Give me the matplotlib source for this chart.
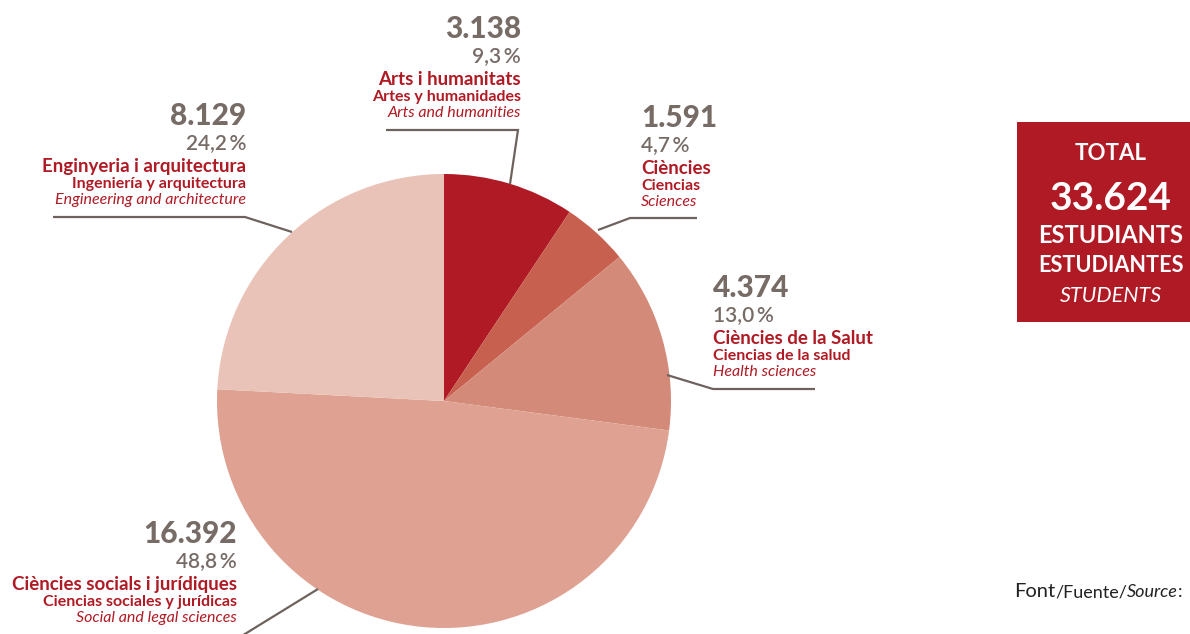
import matplotlib
matplotlib.use("Agg")
import matplotlib.pyplot as plt
from matplotlib.patches import Rectangle

plt.rcParams['font.family'] = ['Lato', 'DejaVu Sans']

# ---- data ----
categories_ca = ["Arts i humanitats", "Ciències", "Ciències de la Salut",
                 "Ciències socials i jurídiques", "Enginyeria i arquitectura"]
categories_es = ["Artes y humanidades", "Ciencias", "Ciencias de la salud",
                 "Ciencias sociales y jurídicas", "Ingeniería y arquitectura"]
categories_en = ["Arts and humanities", "Sciences", "Health sciences",
                 "Social and legal sciences", "Engineering and architecture"]
students = [3138, 1591, 4374, 16392, 8129]
count_labels = ["3.138", "1.591", "4.374", "16.392", "8.129"]
pct_labels = ["9,3\u2009%", "4,7\u2009%", "13,0\u2009%", "48,8\u2009%", "24,2\u2009%"]
total_label = "33.624"

colors = ["#B01A24", "#C86050", "#D48A78", "#DFA191", "#E9C3B7"]
GRAY = "#776B66"
RED = "#B01A24"
LINE = "#6E625D"

W, H = 1190, 634
fig = plt.figure(figsize=(W / 100, H / 100), dpi=100)
ax = fig.add_axes([0, 0, 1, 1])

def Y(y):
    return H - y

cx, cy, R = 444, 401, 227
ax.pie(students, colors=colors, startangle=90, counterclock=False,
       center=(cx, Y(cy)), radius=R, wedgeprops=dict(linewidth=0),
       frame=True)
ax.set_xlim(0, W)
ax.set_ylim(0, H)
ax.set_aspect('equal')
ax.axis('off')

# label anchors: (x, number baseline y, ha)
anchors = [(521, 38, 'right'), (641, 127, 'left'), (713, 297, 'left'),
           (237, 543, 'right'), (246, 125, 'right')]

for i, (x, yb, ha) in enumerate(anchors):
    ax.text(x, Y(yb), count_labels[i], ha=ha, va='baseline', fontsize=21.5,
            fontweight='black', color=GRAY)
    ax.text(x, Y(yb + 24), pct_labels[i], ha=ha, va='baseline', fontsize=15,
            fontweight='semibold', color=GRAY)
    ax.text(x, Y(yb + 47), categories_ca[i], ha=ha, va='baseline', fontsize=13.5,
            fontweight='bold', color=RED)
    ax.text(x, Y(yb + 63), categories_es[i], ha=ha, va='baseline', fontsize=11.5,
            fontweight='bold', color=RED)
    ax.text(x, Y(yb + 79), categories_en[i], ha=ha, va='baseline', fontsize=11.5,
            style='italic', color=RED)

# leader lines
leaders = [
    [(386, 130), (518, 130), (510, 184)],
    [(598, 230), (630, 218), (697, 218)],
    [(667, 375), (713, 389), (815, 389)],
    [(318, 589), (240, 637)],
    [(53, 217), (245, 217), (292, 232)],
]
for pts in leaders:
    xs = [p[0] for p in pts]
    ys = [Y(p[1]) for p in pts]
    ax.plot(xs, ys, color=LINE, lw=1.6, solid_capstyle='butt',
            solid_joinstyle='miter')

# total box
ax.add_patch(Rectangle((1017, Y(322)), 200, 200, color=RED, lw=0))
tx = 1111
ax.text(tx, Y(160), "TOTAL", ha='center', va='baseline', fontsize=16,
        fontweight='bold', color='white')
ax.text(tx, Y(210), total_label, ha='center', va='baseline', fontsize=28,
        fontweight='bold', color='white')
ax.text(tx, Y(243), "ESTUDIANTS", ha='center', va='baseline', fontsize=17,
        fontweight='bold', color='white')
ax.text(tx, Y(272), "ESTUDIANTES", ha='center', va='baseline', fontsize=15.6,
        fontweight='bold', color='white')
ax.text(tx, Y(302), "STUDENTS", ha='center', va='baseline', fontsize=15.5,
        style='italic', color='white')

# source (pieces chained by measured width)
fig.canvas.draw()
renderer = fig.canvas.get_renderer()
pieces = [("Font", 14.5, 'normal'), ("/Fuente/", 13, 'normal'),
          ("Source", 13, 'italic'), (":", 13, 'normal')]
xpos = 1014
for txt, fs, st in pieces:
    t = fig.text(xpos / W, 1 - 597 / H, txt, ha='left', va='baseline',
                 fontsize=fs, style=st, color='#222222')
    bb = t.get_window_extent(renderer)
    xpos += bb.width

fig.savefig("out.png", dpi=100, facecolor='white')
